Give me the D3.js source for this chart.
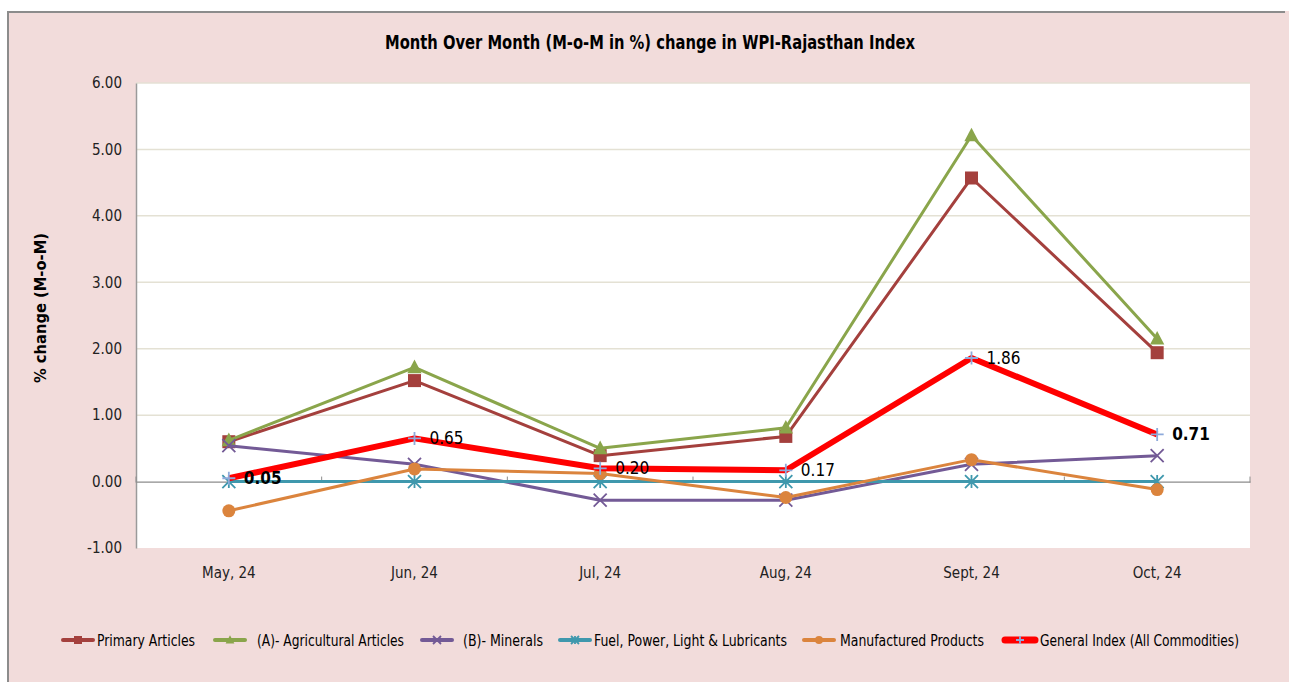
<!DOCTYPE html>
<meta charset="utf-8">
<style type="text/css">
  body { margin: 0; background: #fff; }
  text { font-family: "Liberation Sans Narrow", "DejaVu Sans Condensed", "Open Sans", sans-serif; fill: #000; }
  .grid line { stroke: #e4e1d4; stroke-width: 1.5; }
  .yaxis text, .xlab { font-size: 15px; fill: #222; }
</style>
<body>
</body>
<script src="https://d3js.org/d3.v7.min.js"></script>
<script>
  // chart data
  var months = ["May, 24", "Jun, 24", "Jul, 24", "Aug, 24", "Sept, 24", "Oct, 24"];
  var primary = [0.60, 1.52, 0.39, 0.68, 4.57, 1.94];
  var agricultural = [0.62, 1.72, 0.50, 0.81, 5.21, 2.15];
  var minerals = [0.54, 0.26, -0.28, -0.28, 0.26, 0.39];
  var fuel = [0.00, 0.00, 0.00, 0.00, 0.00, 0.00];
  var manufactured = [-0.44, 0.19, 0.12, -0.24, 0.33, -0.12];
  var general = [0.05, 0.65, 0.20, 0.17, 1.86, 0.71];
  var generalBold = [true, false, false, false, false, true];
  var yTicks = [-1, 0, 1, 2, 3, 4, 5, 6];

  var series = [
    { name: "Primary Articles", values: primary, color: "#a4403d", width: 3, marker: "square" },
    { name: "(A)- Agricultural Articles", values: agricultural, color: "#8aa54b", width: 3, marker: "triangle" },
    { name: "(B)- Minerals", values: minerals, color: "#735a96", width: 3, marker: "x" },
    { name: "Fuel, Power, Light & Lubricants", values: fuel, color: "#3f98ad", width: 3, marker: "star" },
    { name: "Manufactured Products", values: manufactured, color: "#db843d", width: 3, marker: "circle" },
    { name: "General Index (All Commodities)", values: general, color: "#ff0000", width: 6, marker: "plus" }
  ];

  var W = 1289, H = 682;
  var plot = { left: 136, right: 1250, top: 83, bottom: 548 };

  var svg = d3.select("body").append("svg")
    .attr("width", W)
    .attr("height", H);

  // background and frame
  svg.append("rect").attr("x", 0).attr("y", 0).attr("width", W).attr("height", H).attr("fill", "#fff");
  svg.append("rect").attr("x", 7).attr("y", 11).attr("width", W - 7).attr("height", H - 11)
    .attr("fill", "#f2dcdb");
  svg.append("path").attr("d", "M8," + H + "V12H" + (W - 4))
    .attr("fill", "none").attr("stroke", "#8c8c8c").attr("stroke-width", 2);
  svg.append("rect").attr("x", plot.left).attr("y", plot.top)
    .attr("width", plot.right - plot.left).attr("height", plot.bottom - plot.top)
    .attr("fill", "#fff");

  var x = d3.scaleBand().domain(months).range([plot.left, plot.right]);
  var y = d3.scaleLinear().domain([-1, 6]).range([plot.bottom, plot.top]);
  var cx = function(i) { return x(months[i]) + x.bandwidth() / 2; };

  // gridlines
  svg.append("g").attr("class", "grid")
    .selectAll("line").data(yTicks.filter(function(d) { return d !== 0 && d !== -1; }))
    .join("line")
    .attr("x1", plot.left).attr("x2", plot.right)
    .attr("y1", function(d) { return y(d); }).attr("y2", function(d) { return y(d); });

  // y axis
  var yAxis = svg.append("g").attr("class", "yaxis")
    .attr("transform", "translate(" + plot.left + ",0)")
    .call(d3.axisLeft(y).tickValues(yTicks)
      .tickFormat(function(d) { return d.toFixed(2); })
      .tickSize(0).tickPadding(14));
  yAxis.select(".domain").attr("stroke", "#9a9a9a").attr("stroke-width", 1.5);

  // zero line with category ticks
  var zero = svg.append("g").attr("transform", "translate(0," + y(0) + ")")
    .call(d3.axisBottom(x).tickSize(0).tickFormat(""));
  zero.select(".domain").attr("stroke", "#8c8c8c").attr("stroke-width", 1.2);
  zero.selectAll(".tick").remove();
  svg.append("g").selectAll("line")
    .data(months.concat(["end"]))
    .join("line")
    .attr("x1", function(d, i) { return plot.left + i * x.step(); })
    .attr("x2", function(d, i) { return plot.left + i * x.step(); })
    .attr("y1", y(0) - 5).attr("y2", y(0) + 1)
    .attr("stroke", "#8c8c8c").attr("stroke-width", 1);

  // x labels
  svg.append("g").selectAll("text").data(months).join("text")
    .attr("class", "xlab")
    .attr("x", function(d, i) { return cx(i); })
    .attr("y", 578)
    .attr("text-anchor", "middle")
    .text(function(d) { return d; });

  // titles
  svg.append("text").attr("x", 650).attr("y", 49).attr("text-anchor", "middle")
    .attr("font-size", 20).attr("font-weight", "bold")
    .attr("textLength", 530).attr("lengthAdjust", "spacingAndGlyphs")
    .text("Month Over Month (M-o-M in %) change in WPI-Rajasthan Index");
  svg.append("text").attr("transform", "translate(46,308) rotate(-90)")
    .attr("text-anchor", "middle").attr("font-size", 16).attr("font-weight", "bold")
    .attr("textLength", 150).attr("lengthAdjust", "spacingAndGlyphs")
    .text("% change (M-o-M)");

  function drawMarker(g, type, color, px, py, s) {
    if (type === "square") {
      g.append("rect").attr("x", px - s / 2).attr("y", py - s / 2).attr("width", s).attr("height", s).attr("fill", color);
    } else if (type === "triangle") {
      g.append("path").attr("d", "M" + px + "," + (py - s * 0.6) + "L" + (px + s * 0.55) + "," + (py + s * 0.45) + "L" + (px - s * 0.55) + "," + (py + s * 0.45) + "Z").attr("fill", color);
    } else if (type === "circle") {
      g.append("circle").attr("cx", px).attr("cy", py).attr("r", s / 2).attr("fill", color);
    } else if (type === "x") {
      var h = s / 2;
      g.append("path").attr("d", "M" + (px - h) + "," + (py - h) + "L" + (px + h) + "," + (py + h) + "M" + (px + h) + "," + (py - h) + "L" + (px - h) + "," + (py + h))
        .attr("stroke", color).attr("stroke-width", 1.8).attr("fill", "none");
    } else if (type === "star") {
      var k = s / 2;
      g.append("path").attr("d", "M" + (px - k) + "," + (py - k) + "L" + (px + k) + "," + (py + k) + "M" + (px + k) + "," + (py - k) + "L" + (px - k) + "," + (py + k) + "M" + px + "," + (py - k) + "L" + px + "," + (py + k))
        .attr("stroke", color).attr("stroke-width", 1.8).attr("fill", "none");
    } else if (type === "plus") {
      var p = s / 2;
      g.append("path").attr("d", "M" + (px - p) + "," + py + "L" + (px + p) + "," + py + "M" + px + "," + (py - p) + "L" + px + "," + (py + p))
        .attr("stroke", "#8eaadb").attr("stroke-width", 1.8).attr("fill", "none");
    }
  }

  var line = d3.line()
    .x(function(d, i) { return cx(i); })
    .y(function(d) { return y(d); });

  series.forEach(function(s) {
    var g = svg.append("g");
    g.append("path").datum(s.values)
      .attr("d", line).attr("fill", "none")
      .attr("stroke", s.color).attr("stroke-width", s.width)
      .attr("stroke-linejoin", "round");
    s.values.forEach(function(v, i) {
      drawMarker(g, s.marker, s.color, cx(i), y(v), 13);
    });
  });

  // data labels for general index
  svg.append("g").selectAll("text").data(general).join("text")
    .attr("x", function(d, i) { return cx(i) + 15; })
    .attr("y", function(d) { return y(d) + 6; })
    .attr("font-size", 17)
    .attr("font-weight", function(d, i) { return generalBold[i] ? "bold" : "normal"; })
    .attr("fill", function(d, i) { return generalBold[i] ? "#000" : "#222"; })
    .text(function(d) { return d.toFixed(2); });

  // legend
  var legendLine = [61, 213, 420, 558, 802, 1003];
  var legendText = [97, 257, 463, 594, 840, 1040];
  var legendTextW = [98, 147, 80, 193, 144, 199];
  var leg = svg.append("g").attr("transform", "translate(0,640)");
  series.forEach(function(s, i) {
    var g = leg.append("g").attr("transform", "translate(" + legendLine[i] + ",0)");
    g.append("line").attr("x1", 2).attr("x2", 32).attr("y1", 0).attr("y2", 0)
      .attr("stroke", s.color).attr("stroke-width", s.width + 1).attr("stroke-linecap", "round");
    drawMarker(g, s.marker, s.color, 17, 0, 8);
    leg.append("text").attr("x", legendText[i]).attr("y", 6)
      .attr("font-size", 16).attr("fill", "#222")
      .attr("textLength", legendTextW[i]).attr("lengthAdjust", "spacingAndGlyphs")
      .text(s.name);
  });
</script>
